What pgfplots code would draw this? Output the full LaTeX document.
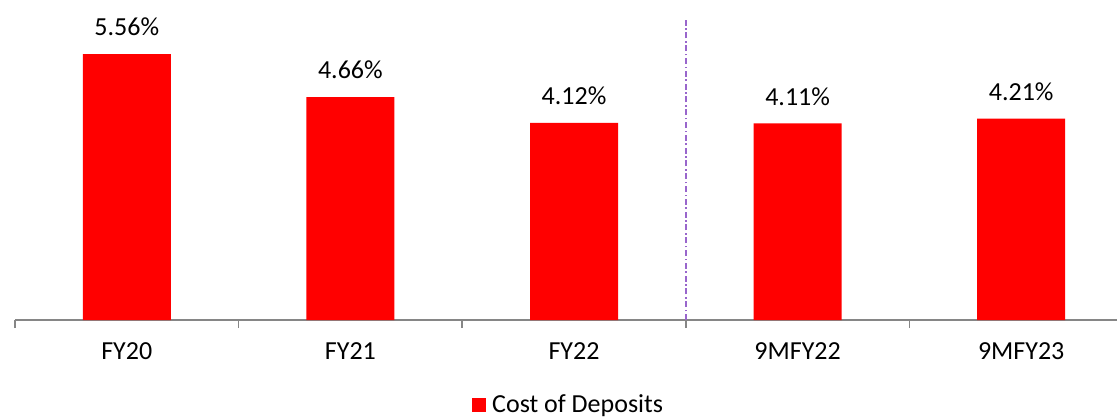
\documentclass[border=0pt]{standalone}
\usepackage{fontspec}
\setmainfont{Carlito}
\usepackage{pgfplots}
\pgfplotsset{compat=1.18}
\definecolor{barred}{HTML}{FF0000}
\definecolor{axisgray}{HTML}{868686}
\definecolor{divider}{HTML}{9966CC}

\begin{document}
\begin{tikzpicture}[font=\fontsize{13}{15}\selectfont]
\begin{axis}[
  at={(7.5pt,49pt)},
  anchor=south west,
  scale only axis,
  width=559pt,
  height=160pt,
  xmin=-0.5, xmax=4.5,
  ymin=0, ymax=6.69,
  axis x line=bottom,
  axis y line=none,
  axis line style={axisgray, line width=0.8pt, -},
  xtick={0,1,2,3,4},
  xticklabels={FY20,FY21,FY22,9MFY22,9MFY23},
  major tick length=0pt,
  minor xtick={-0.5,0.5,1.5,2.5,3.5,4.5},
  minor tick length=4pt,
  tick align=outside,
  minor tick style={axisgray, line width=0.8pt},
  xticklabel style={yshift=-8pt},
  clip=false,
  legend style={draw=none, at={(0.497,-0.266)}, anchor=center,
    font=\fontsize{13}{15}\selectfont, nodes={inner xsep=3pt}},
  /pgf/number format/assume math mode=true,
]
\addplot[ybar, bar width=44pt, fill=barred, draw=none,
  nodes near coords={\pgfmathprintnumber[fixed,precision=2,fixed zerofill]{\pgfplotspointmeta}\%},
  nodes near coords style={anchor=south, yshift=5.5pt, text=black},
  legend image code/.code={\fill[barred] (0pt,-3.5pt) rectangle (7pt,3.5pt);}]
  coordinates {(0,5.56) (1,4.66) (2,4.12) (3,4.11) (4,4.21)};
\addlegendentry{Cost of Deposits}
\addplot[divider, line width=0.9pt, dash pattern=on 3pt off 1.3pt on 0.8pt off 1.3pt, forget plot]
  coordinates {(2.5,0) (2.5,6.27)};
\end{axis}
\pgfresetboundingbox
\useasboundingbox (0,0) rectangle (558.5pt,209pt);
\end{tikzpicture}
\end{document}
